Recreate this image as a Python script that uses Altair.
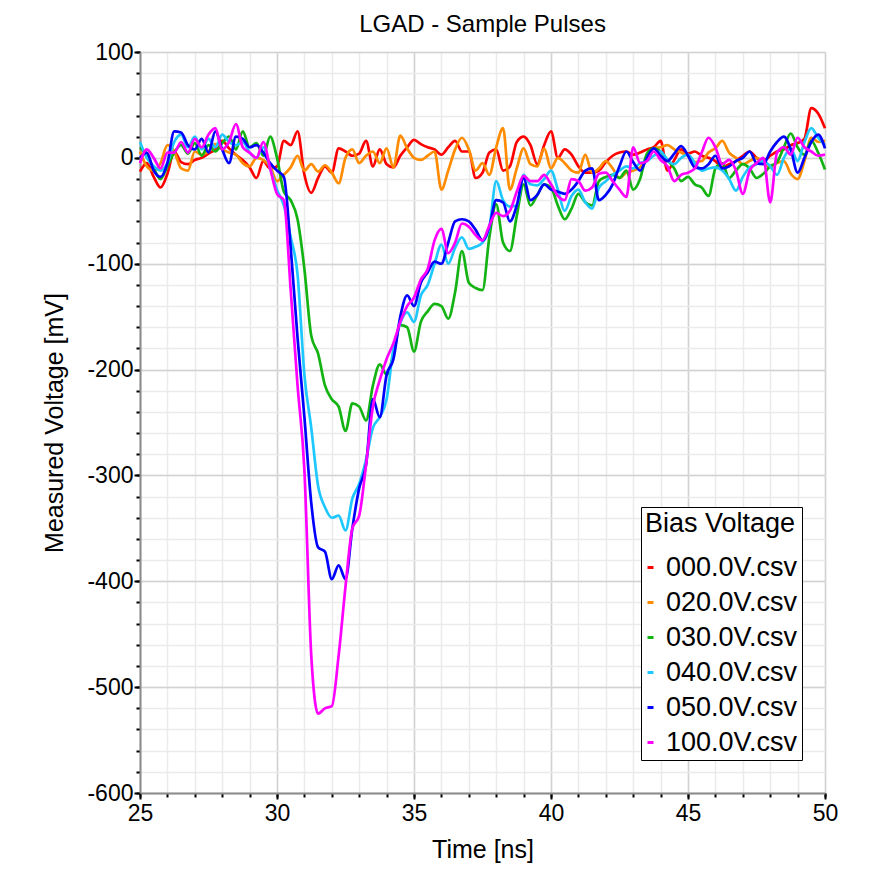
import altair as alt
import pandas as pd

# time axis: 25 ns .. 50 ns in 0.25 ns steps (101 samples)
time_ns = [25 + 0.25 * i for i in range(101)]

v_000 = [-13, -5, -18, -28, -15, 6, -4, -6, -2, 0,
         4, 8, 16, 9, 3, -2, -9, -19, -3, -10,
         -8, 16, 12, 25, -16, -33, -19, -8, -14, 9,
         6, 2, 4, 16, -8, 8, -6, -9, 2, 10,
         17, 13, 10, 8, 3, 10, 16, 6, 6, -19,
         -14, 5, 8, -12, -8, 15, 20, 12, -6, 12,
         25, 0, 8, 3, -8, -14, -14, -12, -4, 2,
         5, 6, 3, 5, 8, 10, 16, -12, -2, 8,
         4, 6, 2, 0, -3, -9, -6, -3, 2, 6,
         0, -3, 2, 6, 8, 12, 14, 18, 47, 42,
         28]

v_020 = [6, -8, -12, -5, 12, 6, -10, -12, 6, 3,
         6, 13, 8, 5, 3, -5, -8, 0, -2, -8,
         -22, -16, -9, 2, -12, -6, -13, -7, -14, -24,
         0, 8, -5, 2, 6, -5, 9, -9, 21, 9,
         0, -2, 2, 6, -30, -12, 8, 19, 8, -12,
         -5, -16, 10, 28, -30, -10, 9, -6, -8, 9,
         -10, 0, -5, -12, -14, 3, -14, -10, -3, -10,
         -19, -14, -12, -9, 0, 9, 10, 12, 8, 5,
         2, -4, -3, 5, 9, 16, 5, 0, -6, -3,
         0, -4, -9, -5, -3, -15, -20, -3, 19, 15,
         16]

v_030 = [10, 2, -10, -20, -8, 5, 12, 4, 14, 2,
         12, 6, 14, 20, 8, 25, 10, 14, 2, 20,
         0, -32, -40, -58, -105, -168, -185, -215, -228, -235,
         -258, -232, -235, -248, -215, -195, -205, -185, -158, -160,
         -183, -155, -145, -138, -140, -152, -127, -88, -118, -123,
         -125, -75, -44, -80, -88, -55, -25, -45, -35, -25,
         -28, -45, -58, -48, -34, -42, -45, -22, -18, -16,
         -19, -12, -30, -20, 4, 9, 6, -2, -10, -22,
         -18, -25, -28, -36, -10, -5, -19, -12, -6, -10,
         -19, -15, -8, -4, 10, 23, 10, 3, 16, 5,
         -11]

v_040 = [15, 0, -8, -12, -5, 15, 22, 10, 20, 8,
         18, 10, 22, 15, 12, 15, 5, 0, 10, -10,
         -30, -45, -75, -110, -205, -255, -310, -330, -340, -338,
         -352, -322, -308, -285, -255, -245, -228, -180, -156, -146,
         -155, -130, -120, -100, -82, -100, -85, -75, -86, -84,
         -80, -66, -22, -40, -46, -45, -16, -25, -26, -20,
         -12, -30, -50, -36, -30, -42, -48, -28, -22, -16,
         -12, -8, -10, -5, -3, 2, 6, -2, -6, 0,
         3, -5, -12, -10, -9, -12, -20, -31, -18, -9,
         -6, -3, -8, -16, 0, 9, -3, 15, 28, 19,
         12]

v_050 = [0, 5, -12, -18, -5, 25, 24, 12, 8, 18,
         5, 25, 8, -5, 20, 18, 10, 12, 5, -5,
         -12, -18, -85, -170, -245, -326, -368, -372, -398, -385,
         -398, -350, -312, -290, -228, -245, -205, -190, -150, -130,
         -140, -118, -108, -98, -100, -80, -60, -58, -60, -68,
         -78, -65, -40, -42, -60, -45, -19, -40, -35, -25,
         -30, -32, -34, -30, -22, -12, -10, -40, -35, -25,
         -8, 6, -4, -12, 0, 9, 2, -3, 4, 11,
         2, -9, -10, -6, 2, -10, -8, -3, 0, 6,
         -5, -6, 6, 15, 20, 8, -14, 0, 15, 22,
         9]

v_100 = [-5, 8, 0, -10, 5, 5, 15, 5, 18, 10,
         22, 28, 8, 15, 32, 10, 5, 0, 15, -10,
         -34, -40, -125, -215, -295, -470, -525, -520, -518, -470,
         -405, -350, -338, -290, -235, -210, -190, -175, -155, -140,
         -132, -115, -105, -78, -67, -90, -80, -62, -65, -73,
         -78, -64, -52, -55, -50, -32, -17, -22, -22, -16,
         -25, -36, -40, -20, -22, -31, -28, -15, -14, -22,
         -30, -37, 10, -5, -3, 6, -2, -8, -22, -16,
         -14, -10, 5, 19, 10, -6, -2, -12, -34, -12,
         -5, 0, -42, 5, 10, 3, 19, 10, 6, 2,
         3]

series_names = ["000.0V.csv", "020.0V.csv", "030.0V.csv",
                "040.0V.csv", "050.0V.csv", "100.0V.csv"]
series_colors = ["#ff0000", "#ff8c00", "#12b312", "#1ec8ff", "#0000ff", "#ff00ff"]
series_values = [v_000, v_020, v_030, v_040, v_050, v_100]

x_major = [25, 30, 35, 40, 45, 50]
x_minor = list(range(25, 51))
y_major = [100, 0, -100, -200, -300, -400, -500, -600]
y_minor = list(range(-600, 101, 20))

rows = []
for k, (name, vals) in enumerate(zip(series_names, series_values)):
    for t, v in zip(time_ns, vals):
        rows.append({"t": t, "v": v, "series": name, "k": k})
df = pd.DataFrame(rows)

FONT = "Liberation Sans"

x_scale = alt.Scale(domain=[25, 50], nice=False, zero=False)
y_scale = alt.Scale(domain=[-600, 100], nice=False, zero=False)

base = alt.Chart(df)

minor = base.mark_line(opacity=0).encode(
    x=alt.X("t:Q", scale=x_scale,
            axis=alt.Axis(values=x_minor, orient="bottom", grid=True, gridColor="#ebebeb",
                          gridWidth=1.5, labels=False, domain=False, ticks=True,
                          tickColor="#000000", tickSize=4, tickWidth=2, title=None)),
    y=alt.Y("v:Q", scale=y_scale,
            axis=alt.Axis(values=y_minor, orient="left", grid=True, gridColor="#ebebeb",
                          gridWidth=1.5, labels=False, domain=False, ticks=True,
                          tickColor="#000000", tickSize=4, tickWidth=2, title=None)),
    detail="series:N",
)

main = base.mark_line(strokeWidth=2.7, interpolate="monotone").encode(
    x=alt.X("t:Q", scale=x_scale,
            axis=alt.Axis(values=x_major, orient="bottom", grid=True, gridColor="#d2d2d2",
                          gridWidth=1.5, domainColor="#8c8c8c", domainWidth=2,
                          tickColor="#000000", tickSize=6, tickWidth=2,
                          labelFlush=False,
                          labelFontSize=23, labelFont=FONT, labelColor="#000000",
                          labelPadding=3, title="Time [ns]", titleFont=FONT,
                          titleFontSize=25, titleFontWeight="normal", titleColor="#000000",
                          titlePadding=12)),
    y=alt.Y("v:Q", scale=y_scale,
            axis=alt.Axis(values=y_major, orient="left", grid=True, gridColor="#d2d2d2",
                          gridWidth=1.5, domainColor="#8c8c8c", domainWidth=2,
                          tickColor="#000000", tickSize=6, tickWidth=2,
                          labelFlush=False,
                          labelExpr="toString(datum.value)",
                          labelFontSize=23, labelFont=FONT, labelColor="#000000",
                          labelPadding=1, title="Measured Voltage [mV]", titleFont=FONT,
                          titleFontSize=25, titleFontWeight="normal", titleColor="#000000",
                          titlePadding=19)),
    color=alt.Color("series:N",
                    scale=alt.Scale(domain=series_names, range=series_colors),
                    legend=alt.Legend(title="Bias Voltage", orient="none",
                                      legendX=501, legendY=455,
                                      symbolType="stroke", symbolSize=36,
                                      symbolStrokeWidth=3, symbolOffset=-8,
                                      labelFont=FONT, labelFontSize=27, labelColor="#000000",
                                      titleFont=FONT, titleFontSize=27,
                                      titleFontWeight="normal", titleColor="#000000",
                                      strokeColor="#000000", fillColor="#ffffff",
                                      padding=4, rowPadding=7, labelOffset=2,
                                      titlePadding=16, cornerRadius=0)),
    order=alt.Order("k:Q"),
)

chart = alt.layer(minor, main).resolve_axis(
    x="independent", y="independent"
).properties(
    width=685,
    height=741,
    title=alt.TitleParams("LGAD - Sample Pulses", font=FONT, fontSize=24,
                          fontWeight="normal", color="#000000", offset=4),
    autosize=alt.AutoSizeParams(type="none"),
    padding={"left": 132, "top": 44, "right": 40, "bottom": 70},
).configure_view(
    stroke="#8c8c8c", strokeWidth=2
).configure(background="#ffffff")

chart.save("out.html", embed_options={"renderer": "svg", "actions": False})
